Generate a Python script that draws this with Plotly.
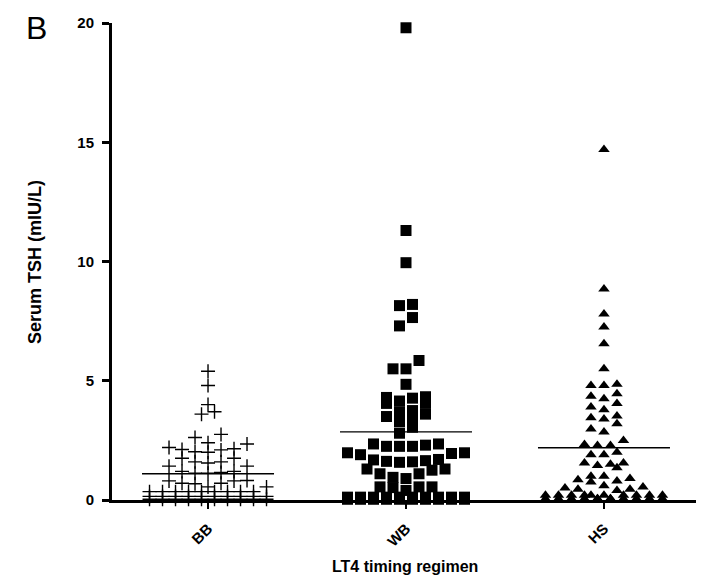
import plotly.graph_objects as go

# ---------------- data ----------------
categories = ["BB", "WB", "HS"]

bb_values = [5.4, 4.8, 4.0, 3.7, 3.6, 2.75, 2.62, 2.4, 2.35,
             2.2, 2.12, 2.02, 2.0, 2.1, 2.15,
             1.75, 1.6, 1.55, 1.6, 1.75,
             1.42, 1.42, 1.2, 1.2, 1.12, 1.12, 1.15,
             0.82, 0.8, 0.8, 0.7, 0.68, 0.7, 0.55, 0.55,
             0.35, 0.35, 0.35, 0.35, 0.35, 0.35, 0.35, 0.35, 0.35,
             0.15, 0.15, 0.15, 0.15, 0.15, 0.15, 0.15, 0.15, 0.15, 0.15,
             0.03, 0.03, 0.03, 0.03, 0.03, 0.03, 0.03, 0.03, 0.03, 0.03]

wb_values = [19.8, 11.3, 9.95, 8.2, 8.15, 7.65, 7.3, 5.85, 5.5, 5.5, 4.85,
             4.33, 4.3, 4.27, 4.15, 4.05, 4.05, 3.75, 3.7, 3.5, 3.6, 3.35, 3.28, 3.05, 2.8,
             2.35, 2.3, 2.25, 2.25, 2.25, 2.35,
             1.98, 1.9, 1.95, 1.98,
             1.65, 1.6, 1.58, 1.62, 1.68, 1.7,
             1.3, 1.1, 0.95, 0.9, 1.1, 1.25, 1.3,
             0.55, 0.55, 0.52, 0.55, 0.4,
             0.12, 0.12, 0.12, 0.12, 0.12, 0.12, 0.12, 0.12, 0.12, 0.12,
             0.03, 0.03, 0.03, 0.03, 0.03, 0.03, 0.03, 0.03, 0.03, 0.03]

hs_values = [14.7, 8.85, 7.8, 7.25, 6.55, 5.5,
             4.8, 4.8, 4.85, 4.35, 4.45, 4.25, 4.05, 3.78, 3.9,
             3.45, 3.52, 3.4, 3.2, 2.85, 2.98, 2.5, 2.33, 2.28, 2.28,
             2.0, 1.9, 1.9, 1.55, 1.5, 1.35, 1.45, 1.55,
             1.0, 0.9, 0.75, 0.85, 1.0, 0.8,
             0.5, 0.45, 0.4, 0.55, 0.6, 0.45,
             0.2, 0.2, 0.2, 0.2, 0.2, 0.2, 0.2, 0.2, 0.2, 0.2,
             0.05, 0.05, 0.05, 0.05, 0.05, 0.05, 0.05, 0.05, 0.05, 0.05, 0.05, 0.05]

group_means = [1.1, 2.86, 2.19]
y_ticks = [0, 5, 10, 15, 20]

# ---------------- layout helpers ----------------
OFF = 8                      # browser body margin
W, H = 704 - OFF, 580 - OFF
ML, MR, MT, MB = 112 - OFF, 4, 23 - OFF, 80
PW, PH = W - ML - MR, H - MT - MB
XR = (-0.485, 2.485)
YR = (0, 20)
px_x = PW / (XR[1] - XR[0])
px_y = PH / (YR[1] - YR[0])


def paper_x(page_px):
    return (page_px - OFF - ML) / PW


def paper_y(page_py):
    return (MT + PH - (page_py - OFF)) / PH


def column_scatter(values, center, row_h_px, step_px, max_n):
    """Prism-like column scatter: rows of nearby values spread symmetrically."""
    vals = sorted(values)
    rows, cur = [], []
    for v in vals:
        if cur and (v - cur[0]) * px_y <= row_h_px and len(cur) < max_n:
            cur.append(v)
        else:
            if cur:
                rows.append(cur)
            cur = [v]
    if cur:
        rows.append(cur)
    xs, ys = [], []
    for row in rows:
        n = len(row)
        offs = sorted([(i - (n - 1) / 2) * step_px for i in range(n)],
                      key=lambda o: (abs(o), o))
        for v, o in zip(row, offs):
            xs.append(center + o / px_x)
            ys.append(v)
    return xs, ys


fig = go.Figure()

specs = [
    (bb_values, dict(symbol="cross-thin", size=10, color="black",
                     line=dict(width=1.4, color="black")), 9),
    (wb_values, dict(symbol="square", size=11, color="black",
                     line=dict(width=0)), 10),
    (hs_values, dict(symbol="triangle-up", size=10, color="black",
                     line=dict(width=0)), 9),
]
for i, (vals, mk, rh) in enumerate(specs):
    xs, ys = column_scatter(vals, i, rh, 13, 10)
    fig.add_trace(go.Scatter(x=xs, y=ys, mode="markers", marker=mk,
                             cliponaxis=False, showlegend=False, hoverinfo="y"))
    half = 66 / px_x
    fig.add_trace(go.Scatter(x=[i - half, i + half], y=[group_means[i]] * 2,
                             mode="lines", line=dict(color="black", width=1.3),
                             cliponaxis=False, showlegend=False, hoverinfo="skip"))

font_b = "Liberation Sans, Arial, sans-serif"

fig.update_layout(
    width=W, height=H,
    margin=dict(l=ML, r=MR, t=MT, b=MB, pad=0),
    paper_bgcolor="white", plot_bgcolor="white",
    font=dict(family=font_b, color="black"),
    xaxis=dict(range=list(XR), tickvals=[0, 1, 2], ticktext=[f"<b>{c}</b>" for c in categories],
               tickangle=-45, ticks="outside", ticklen=6, tickwidth=2, tickcolor="black",
               showline=True, linecolor="black", linewidth=3, showgrid=False, zeroline=False,
               tickfont=dict(size=15, family=font_b), ticklabelstandoff=5),
    yaxis=dict(range=list(YR), tickvals=y_ticks, ticktext=[f"<b>{t}</b>" for t in y_ticks],
               ticks="outside", ticklen=7, tickwidth=3, tickcolor="black",
               showline=True, linecolor="black", linewidth=3, showgrid=False, zeroline=False,
               tickfont=dict(size=15, family=font_b), ticklabelstandoff=5),
    annotations=[
        dict(text="<b>Serum TSH (mIU/L)</b>", textangle=-90, xref="paper", yref="paper",
             x=paper_x(35), y=paper_y(262), xanchor="center", yanchor="middle",
             showarrow=False, font=dict(size=18, family=font_b)),
        dict(text="<b>LT4 timing regimen</b>", xref="paper", yref="paper",
             x=paper_x(405), y=paper_y(566), xanchor="center", yanchor="middle",
             showarrow=False, font=dict(size=16, family=font_b)),
        dict(text="B", xref="paper", yref="paper",
             x=paper_x(36), y=paper_y(28), xanchor="center", yanchor="middle",
             showarrow=False,
             font=dict(size=32, family="Liberation Sans Narrow, Liberation Sans, Arial")),
    ],
)

fig.write_html("out.html")
